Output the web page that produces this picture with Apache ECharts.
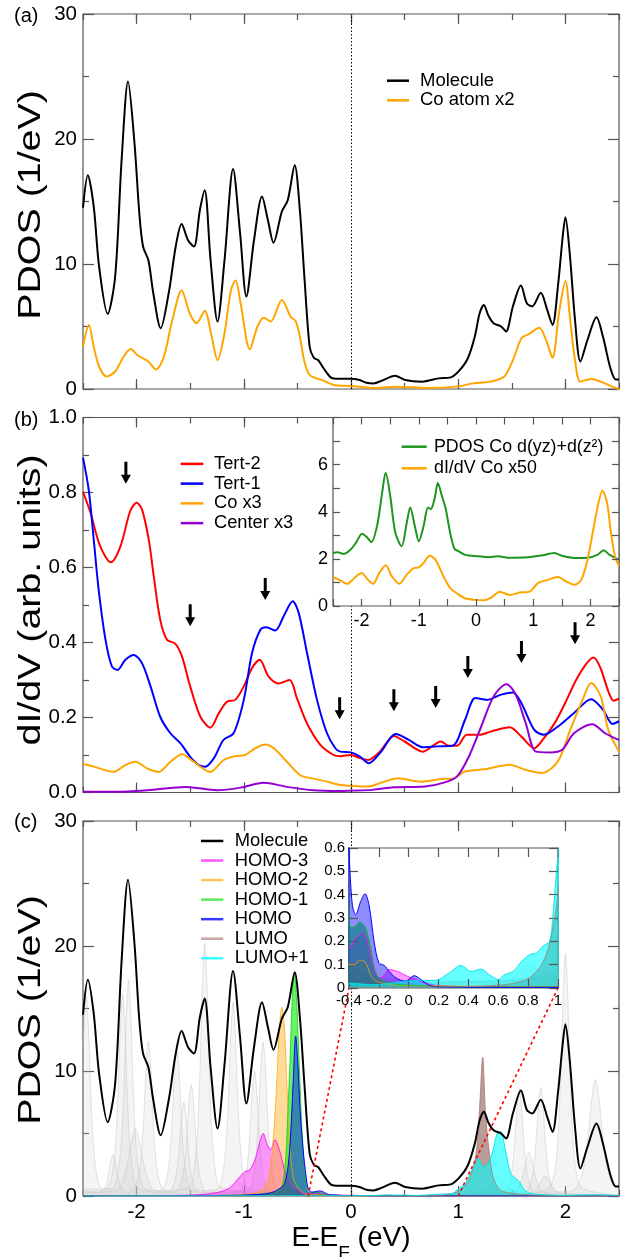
<!DOCTYPE html>
<html><head><meta charset="utf-8">
<script src="https://cdn.jsdelivr.net/npm/echarts@6/dist/echarts.min.js"></script>
<style>html,body{margin:0;padding:0;background:#fff}#c{width:635px;height:1257px}</style>
</head><body><div id="c"></div>
<script>
// ---------------- DATA ----------------
// panel (a)
const molA = [[-2.5,14.5],[-2.455,17.1],[-2.4,14.6],[-2.35,9.8],[-2.27,6.0],[-2.2,9.0],[-2.14,18.3],[-2.08,24.6],[-2.02,19.7],[-1.975,14.1],[-1.94,11.4],[-1.89,10.3],[-1.845,7.7],[-1.775,4.86],[-1.70,7.7],[-1.635,11.4],[-1.58,13.2],[-1.52,11.9],[-1.465,11.4],[-1.41,14.3],[-1.365,15.9],[-1.31,10.3],[-1.245,5.4],[-1.18,10.3],[-1.10,17.6],[-1.035,12.5],[-0.976,7.4],[-0.905,11.9],[-0.83,15.4],[-0.775,13.5],[-0.723,11.7],[-0.645,14.2],[-0.59,15.1],[-0.525,17.9],[-0.477,14.3],[-0.435,9.0],[-0.386,3.4],[-0.347,2.5],[-0.305,2.3],[-0.256,1.66],[-0.19,0.93],[-0.143,0.83],[0,0.83],[0.08,0.72],[0.145,0.5],[0.21,0.45],[0.29,0.67],[0.41,1.07],[0.505,0.72],[0.665,0.59],[0.815,0.85],[0.93,0.93],[1.01,1.47],[1.09,2.46],[1.155,4.2],[1.20,6.06],[1.24,6.73],[1.28,5.9],[1.33,5.26],[1.40,5.0],[1.446,4.6],[1.51,6.6],[1.585,8.28],[1.64,6.86],[1.69,6.6],[1.77,7.7],[1.83,6.33],[1.88,5.13],[1.93,8.2],[1.975,12.2],[2.0,13.75],[2.04,10.9],[2.09,5.5],[2.14,2.2],[2.205,3.9],[2.29,5.74],[2.35,4.2],[2.42,1.66],[2.47,0.77],[2.5,0.77]];
const coA = [[-2.5,3.4],[-2.445,5.13],[-2.40,3.4],[-2.35,1.8],[-2.28,1.0],[-2.20,1.4],[-2.12,2.6],[-2.056,3.2],[-1.99,2.7],[-1.89,2.2],[-1.82,1.57],[-1.75,2.46],[-1.667,5.5],[-1.58,7.9],[-1.505,6.06],[-1.44,5.26],[-1.365,6.27],[-1.30,4.2],[-1.245,2.3],[-1.18,4.46],[-1.12,7.9],[-1.077,8.68],[-1.03,6.86],[-0.944,3.18],[-0.872,5.0],[-0.814,5.7],[-0.75,5.4],[-0.645,7.13],[-0.564,5.8],[-0.515,5.4],[-0.477,4.2],[-0.435,2.2],[-0.386,1.12],[-0.32,0.85],[-0.256,0.67],[-0.16,0.32],[0,0.24],[0.23,0.08],[0.41,0.19],[0.72,0.08],[0.98,0.19],[1.14,0.45],[1.30,0.59],[1.43,1.0],[1.51,2.3],[1.59,4.06],[1.657,4.38],[1.756,4.9],[1.82,3.9],[1.88,2.5],[1.94,6.06],[2.0,8.65],[2.045,5.5],[2.09,2.3],[2.14,0.59],[2.24,0.8],[2.33,0.59],[2.435,0.19],[2.5,0.0]];

// panel (b)
const tert2 = [[-2.5,0.802],[-2.43,0.746],[-2.34,0.657],[-2.24,0.614],[-2.15,0.657],[-2.06,0.750],[-2.0,0.773],[-1.95,0.755],[-1.887,0.675],[-1.84,0.577],[-1.78,0.461],[-1.716,0.407],[-1.64,0.397],[-1.577,0.363],[-1.50,0.283],[-1.405,0.202],[-1.312,0.173],[-1.234,0.211],[-1.157,0.242],[-1.08,0.247],[-1.0,0.283],[-0.923,0.332],[-0.852,0.354],[-0.768,0.309],[-0.675,0.291],[-0.572,0.300],[-0.504,0.251],[-0.41,0.184],[-0.286,0.127],[-0.162,0.10],[-0.1,0.097],[0,0.10],[0.083,0.092],[0.16,0.087],[0.27,0.109],[0.40,0.151],[0.50,0.136],[0.67,0.109],[0.84,0.136],[0.91,0.125],[0.99,0.125],[1.08,0.154],[1.20,0.154],[1.31,0.163],[1.48,0.174],[1.59,0.149],[1.71,0.118],[1.80,0.145],[1.90,0.185],[2.0,0.24],[2.1,0.30],[2.2,0.345],[2.264,0.36],[2.33,0.33],[2.40,0.27],[2.45,0.245],[2.5,0.25]];
const tert1 = [[-2.5,0.893],[-2.447,0.808],[-2.40,0.675],[-2.354,0.541],[-2.29,0.407],[-2.23,0.336],[-2.177,0.327],[-2.105,0.354],[-2.027,0.367],[-1.95,0.345],[-1.87,0.283],[-1.78,0.202],[-1.685,0.158],[-1.59,0.131],[-1.50,0.095],[-1.42,0.073],[-1.36,0.069],[-1.28,0.091],[-1.19,0.140],[-1.095,0.158],[-1.0,0.247],[-0.923,0.372],[-0.845,0.434],[-0.79,0.441],[-0.706,0.432],[-0.628,0.470],[-0.544,0.510],[-0.488,0.479],[-0.41,0.372],[-0.317,0.247],[-0.224,0.158],[-0.146,0.118],[-0.1,0.109],[0,0.107],[0.083,0.096],[0.166,0.078],[0.27,0.105],[0.42,0.156],[0.536,0.141],[0.67,0.121],[0.80,0.123],[0.95,0.125],[1.064,0.194],[1.16,0.252],[1.27,0.247],[1.40,0.261],[1.51,0.267],[1.59,0.238],[1.71,0.167],[1.80,0.154],[1.93,0.176],[2.08,0.212],[2.24,0.249],[2.35,0.221],[2.44,0.183],[2.5,0.19]];
const coB = [[-2.5,0.0758],[-2.4,0.069],[-2.214,0.055],[-2.105,0.073],[-2.01,0.082],[-1.90,0.064],[-1.794,0.055],[-1.685,0.082],[-1.576,0.102],[-1.468,0.082],[-1.312,0.055],[-1.19,0.086],[-1.08,0.097],[-0.986,0.10],[-0.893,0.118],[-0.80,0.128],[-0.72,0.118],[-0.597,0.082],[-0.473,0.046],[-0.35,0.037],[-0.224,0.029],[-0.1,0.020],[0,0.018],[0.16,0.016],[0.27,0.025],[0.44,0.038],[0.65,0.029],[0.84,0.036],[0.95,0.037],[1.064,0.056],[1.25,0.062],[1.48,0.074],[1.63,0.060],[1.78,0.052],[1.93,0.083],[2.045,0.167],[2.16,0.247],[2.24,0.292],[2.33,0.256],[2.40,0.167],[2.5,0.109]];
const centerB = [[-2.5,0.002],[-2.21,0.002],[-1.9,0.006],[-1.536,0.015],[-1.25,0.006],[-1.03,0.013],[-0.815,0.026],[-0.597,0.015],[-0.35,0.006],[-0.1,0.004],[0,0.005],[0.2,0.007],[0.40,0.014],[0.69,0.016],[0.875,0.027],[0.99,0.043],[1.10,0.096],[1.215,0.176],[1.33,0.256],[1.45,0.289],[1.536,0.261],[1.63,0.185],[1.725,0.109],[1.857,0.107],[1.97,0.114],[2.08,0.158],[2.25,0.182],[2.37,0.158],[2.5,0.140]];
const arrowPts = [[-2.1,0.853],[-1.5,0.473],[-0.8,0.543],[-0.106,0.225],[0.40,0.246],[0.79,0.255],[1.09,0.335],[1.59,0.375],[2.09,0.425]];
// inset (b)
const pdosCoD = [[-2.5,2.25],[-2.42,2.28],[-2.31,2.21],[-2.19,2.40],[-2.10,2.68],[-1.99,3.07],[-1.90,2.90],[-1.83,2.71],[-1.73,3.40],[-1.64,4.82],[-1.58,5.65],[-1.50,4.68],[-1.41,3.11],[-1.30,2.54],[-1.21,3.54],[-1.15,4.18],[-1.07,3.40],[-1.0,2.75],[-0.916,3.40],[-0.84,4.18],[-0.79,4.11],[-0.725,4.54],[-0.667,5.22],[-0.597,4.68],[-0.528,4.11],[-0.452,3.11],[-0.377,2.43],[-0.307,2.33],[-0.19,2.17],[0.04,2.11],[0.215,2.07],[0.39,2.11],[0.56,2.05],[0.91,2.07],[1.14,2.14],[1.374,2.25],[1.49,2.14],[1.72,2.04],[1.95,2.05],[2.13,2.18],[2.23,2.37],[2.33,2.18],[2.46,2.01],[2.5,1.98]];
const didvCo50 = [[-2.5,1.23],[-2.39,1.11],[-2.25,0.94],[-2.13,1.18],[-2.0,1.40],[-1.90,1.14],[-1.80,0.94],[-1.69,1.40],[-1.58,1.73],[-1.47,1.26],[-1.34,0.94],[-1.21,1.33],[-1.09,1.61],[-1.0,1.64],[-0.916,1.83],[-0.81,2.13],[-0.71,1.97],[-0.57,1.26],[-0.45,0.76],[-0.336,0.54],[-0.19,0.33],[-0.017,0.26],[0.128,0.24],[0.27,0.37],[0.417,0.61],[0.59,0.47],[0.765,0.57],[0.94,0.61],[1.084,0.97],[1.258,1.11],[1.43,1.23],[1.577,1.04],[1.72,0.90],[1.84,1.11],[1.95,1.97],[2.04,3.11],[2.13,4.25],[2.21,4.89],[2.29,4.39],[2.36,3.11],[2.43,2.11],[2.5,1.7]];

// panel (c)
const molC = [[-2.5,14.5],[-2.455,17.3],[-2.4,14.6],[-2.35,9.8],[-2.27,5.9],[-2.2,9.0],[-2.14,18.8],[-2.08,25.3],[-2.02,20.2],[-1.975,14.1],[-1.94,11.4],[-1.89,10.3],[-1.845,7.7],[-1.775,4.86],[-1.70,7.7],[-1.635,11.4],[-1.58,13.2],[-1.52,11.9],[-1.465,11.4],[-1.41,14.3],[-1.365,15.8],[-1.31,10.3],[-1.245,5.4],[-1.18,10.5],[-1.10,18.0],[-1.035,12.7],[-0.976,7.4],[-0.905,11.9],[-0.83,15.5],[-0.775,13.5],[-0.723,11.7],[-0.645,14.2],[-0.59,15.1],[-0.525,17.9],[-0.477,14.3],[-0.435,9.0],[-0.386,3.4],[-0.347,2.5],[-0.305,2.3],[-0.256,1.66],[-0.19,0.93],[-0.143,0.83],[0,0.83],[0.08,0.72],[0.145,0.5],[0.21,0.45],[0.29,0.67],[0.41,1.07],[0.505,0.72],[0.665,0.59],[0.815,0.85],[0.93,0.93],[1.01,1.47],[1.09,2.46],[1.155,4.2],[1.20,6.06],[1.24,6.75],[1.28,5.9],[1.33,5.26],[1.40,5.0],[1.446,4.6],[1.51,6.6],[1.585,8.45],[1.64,6.9],[1.69,6.6],[1.77,7.7],[1.83,6.33],[1.88,5.13],[1.93,8.2],[1.975,12.2],[2.0,13.75],[2.04,10.9],[2.09,5.5],[2.14,2.2],[2.205,3.9],[2.29,5.8],[2.35,4.2],[2.42,1.66],[2.47,0.77],[2.5,0.77]];
const homo3 = [[-2.5,0.02],[-1.6,0.05],[-1.3,0.2],[-1.14,0.6],[-1.04,1.5],[-0.99,1.95],[-0.944,2.1],[-0.895,2.9],[-0.85,4.35],[-0.82,5.0],[-0.78,4.1],[-0.75,3.7],[-0.71,4.5],[-0.668,3.7],[-0.62,2.1],[-0.57,1.0],[-0.506,0.48],[-0.45,0.25],[-0.4,0.17],[-0.35,0.215],[-0.306,0.236],[-0.254,0.13],[-0.22,0.057],[-0.187,0.043],[-0.13,0.079],[-0.075,0.071],[-0.008,0.05],[0.048,0.036],[0.115,0.021],[0.2,0.01],[0.5,0.005],[1.0,0.005],[2.5,0.003]];
const homo2 = [[-2.5,0.02],[-1.2,0.05],[-0.91,0.2],[-0.814,0.6],[-0.765,1.5],[-0.733,3.7],[-0.70,7.9],[-0.67,13.0],[-0.645,15.1],[-0.62,13.3],[-0.593,7.9],[-0.57,3.9],[-0.54,1.5],[-0.49,0.6],[-0.44,0.25],[-0.4,0.1],[-0.36,0.1],[-0.33,0.12],[-0.29,0.11],[-0.25,0.05],[-0.2,0.025],[0,0.01],[2.5,0.003]];
const homo1 = [[-2.5,0.02],[-1.2,0.05],[-0.91,0.1],[-0.8,0.2],[-0.716,0.27],[-0.652,0.6],[-0.626,1.5],[-0.603,3.9],[-0.587,7.1],[-0.57,10.6],[-0.548,15.9],[-0.528,17.9],[-0.506,15.4],[-0.483,10.6],[-0.457,5.3],[-0.43,1.8],[-0.415,0.7],[-0.4,0.27],[-0.37,0.26],[-0.328,0.283],[-0.288,0.257],[-0.254,0.17],[-0.232,0.093],[-0.2,0.043],[-0.13,0.021],[0,0.012],[0.3,0.006],[2.5,0.003]];
const homo = [[-2.5,0.02],[-1.5,0.03],[-1.0,0.06],[-0.976,0.08],[-0.81,0.16],[-0.716,0.35],[-0.65,0.7],[-0.62,1.0],[-0.587,2.35],[-0.564,4.75],[-0.54,9.0],[-0.516,12.8],[-0.496,10.6],[-0.473,6.6],[-0.44,3.1],[-0.41,1.0],[-0.4,0.6],[-0.378,0.357],[-0.355,0.314],[-0.322,0.371],[-0.293,0.404],[-0.266,0.357],[-0.232,0.2],[-0.2,0.107],[-0.165,0.097],[-0.13,0.071],[-0.086,0.043],[-0.02,0.029],[0.037,0.053],[0.082,0.036],[0.138,0.011],[0.205,0.004],[0.5,0.003],[2.5,0.002]];
const lumo = [[-2.5,0.002],[0,0.004],[0.4,0.006],[0.6,0.012],[0.7,0.02],[0.8,0.04],[0.88,0.09],[0.93,0.16],[0.97,0.27],[1.0,0.4],[1.034,0.6],[1.08,1.0],[1.115,1.6],[1.164,3.2],[1.196,6.5],[1.229,11.1],[1.255,6.6],[1.287,3.7],[1.326,1.5],[1.39,0.48],[1.52,0.2],[1.7,0.08],[2.0,0.03],[2.5,0.01]];
const lumo1 = [[-2.5,0.002],[-1.0,0.005],[-0.6,0.012],[-0.4,0.021],[-0.24,0.014],[-0.02,0.029],[0.07,0.033],[0.18,0.033],[0.27,0.064],[0.35,0.097],[0.418,0.071],[0.485,0.081],[0.54,0.057],[0.6,0.036],[0.64,0.057],[0.70,0.071],[0.755,0.114],[0.81,0.143],[0.855,0.15],[0.9,0.18],[0.944,0.2],[0.966,0.31],[0.99,0.5],[1.02,0.7],[1.067,1.0],[1.13,2.1],[1.19,3.0],[1.229,2.35],[1.278,2.6],[1.326,3.7],[1.36,4.9],[1.397,5.15],[1.44,3.7],[1.49,1.8],[1.537,1.4],[1.57,1.15],[1.618,0.48],[1.68,0.2],[1.81,0.1],[2.0,0.05],[2.27,0.1],[2.5,0.03]];
// other orbitals (light gray)
const gray1 = [[-2.5,12.0],[-2.49,13.6],[-2.47,16.0],[-2.45,13.6],[-2.43,8.8],[-2.405,4.3],[-2.37,1.6],[-2.32,0.56],[-2.225,0.6],[-2.175,1.73],[-2.14,4.67],[-2.115,9.5],[-2.095,14.7],[-2.075,17.3],[-2.055,14.7],[-2.035,9.5],[-2.01,4.67],[-1.975,1.73],[-1.925,0.6],[-1.775,0.42],[-1.725,1.2],[-1.69,3.24],[-1.665,6.6],[-1.645,10.2],[-1.625,12.0],[-1.605,10.2],[-1.585,6.6],[-1.56,3.24],[-1.525,1.2],[-1.475,0.42],[-1.25,0.54],[-1.2,1.55],[-1.165,4.2],[-1.14,8.5],[-1.12,13.2],[-1.1,15.5],[-1.08,13.2],[-1.06,8.5],[-1.035,4.2],[-1.0,1.55],[-0.95,0.54],[-0.6,0.15],[0,0.03],[0.5,0.03],[1.0,0.05],[1.2,0.15],[1.42,0.3],[1.47,0.86],[1.505,2.3],[1.53,4.7],[1.55,7.3],[1.57,8.6],[1.59,7.3],[1.61,4.7],[1.635,2.3],[1.67,0.86],[1.72,0.3],[1.85,0.68],[1.9,1.94],[1.935,5.2],[1.96,10.7],[1.98,16.5],[2.0,19.4],[2.02,16.5],[2.04,10.7],[2.065,5.2],[2.1,1.94],[2.15,0.68],[2.35,0.2],[2.5,0.1]];
const gray2 = [[-2.5,0.4],[-2.37,0.3],[-2.32,0.4],[-2.285,0.9],[-2.26,1.8],[-2.24,2.8],[-2.22,3.3],[-2.2,2.8],[-2.18,1.8],[-2.155,0.9],[-2.12,0.4],[-2.07,0.3],[-2.04,0.43],[-1.99,1.24],[-1.955,3.35],[-1.93,6.8],[-1.91,10.5],[-1.89,12.4],[-1.87,10.5],[-1.85,6.8],[-1.825,3.35],[-1.79,1.24],[-1.74,0.43],[-1.64,0.31],[-1.59,0.89],[-1.555,2.4],[-1.53,4.9],[-1.51,7.6],[-1.49,8.9],[-1.47,7.6],[-1.45,4.9],[-1.425,2.4],[-1.39,0.89],[-1.34,0.31],[-0.97,0.43],[-0.92,1.23],[-0.885,3.3],[-0.86,6.8],[-0.84,10.5],[-0.82,12.3],[-0.8,10.5],[-0.78,6.8],[-0.755,3.3],[-0.72,1.23],[-0.67,0.43],[-0.4,0.1],[0,0.02],[0.4,0.03],[0.6,0.02],[0.7,0.04],[0.8,0.1],[0.86,0.08],[0.92,0.06],[1.0,0.08],[1.1,0.2],[1.2,0.3],[1.27,0.6],[1.33,1.2],[1.375,1.5],[1.42,1.2],[1.48,0.6],[1.55,0.35],[1.62,0.3],[1.67,0.87],[1.705,2.35],[1.73,4.8],[1.75,7.4],[1.77,8.7],[1.79,7.4],[1.81,4.8],[1.835,2.35],[1.87,0.87],[1.92,0.35],[2.04,0.33],[2.12,0.93],[2.176,2.5],[2.216,5.1],[2.248,7.9],[2.28,9.3],[2.312,7.9],[2.344,5.1],[2.384,2.5],[2.44,0.93],[2.5,0.4]];
const gray3 = [[-2.5,0.6],[-2.35,0.5],[-2.28,0.57],[-2.23,1.6],[-2.195,4.4],[-2.17,8.9],[-2.15,13.8],[-2.13,16.2],[-2.11,13.8],[-2.09,8.9],[-2.065,4.4],[-2.03,1.6],[-1.98,0.57],[-1.71,0.26],[-1.66,0.75],[-1.625,2.0],[-1.6,4.1],[-1.58,6.4],[-1.56,7.5],[-1.54,6.4],[-1.52,4.1],[-1.495,2.0],[-1.46,0.75],[-1.41,0.26],[-1.05,0.35],[-1.0,1.0],[-0.965,2.7],[-0.94,5.5],[-0.92,8.5],[-0.9,10.0],[-0.88,8.5],[-0.86,5.5],[-0.835,2.7],[-0.8,1.0],[-0.75,0.35],[-0.4,0.05],[0,0.02],[1.3,0.1],[1.52,0.3],[1.58,1.0],[1.62,2.3],[1.66,3.5],[1.7,2.3],[1.74,1.0],[1.8,0.3],[2.0,0.15],[2.5,0.08]];
const gray4 = [[-2.5,0.3],[-2.2,0.4],[-2.13,1.2],[-2.08,2.8],[-2.045,4.4],[-2.01,5.4],[-1.975,4.4],[-1.94,2.8],[-1.89,1.2],[-1.82,0.4],[-1.515,0.7],[-1.465,2.0],[-1.43,5.45],[-1.405,11.1],[-1.385,17.2],[-1.365,20.2],[-1.345,17.2],[-1.325,11.1],[-1.3,5.45],[-1.265,2.0],[-1.215,0.7],[-0.6,0.1],[0,0.02],[1.5,0.1],[1.7,0.3],[1.76,1.0],[1.81,1.6],[1.86,1.0],[1.92,0.3],[2.5,0.05]];

// tick values
const mainXMajor = [-2, -1, 0, 1, 2];

// ---------------- OPTION ----------------
const FONT = 'Liberation Sans, Arial, Helvetica, sans-serif';
const FRAME = '#555';
const grids = [
  {left:83, top:14, width:536, height:375},
  {left:83, top:417.5, width:536, height:375},
  {left:333, top:417.5, width:286, height:188.5, z:10, backgroundColor:'#fff'},
  {left:83, top:821, width:536, height:375},
  {left:349, top:848, width:209, height:140, z:10, backgroundColor:'#fff'}
].map(g => Object.assign({show:true, borderColor:FRAME, borderWidth:1.2, containLabel:false, outerBoundsMode:'none', backgroundColor:'rgba(0,0,0,0)', z:0}, g));

const xAxes = [], yAxes = [];
function tick(len, extra){ return Object.assign({show:true, inside:true, length:len, lineStyle:{color:FRAME, width:1.2}}, extra||{}); }
function lbl(fmt, size, margin){ return {show:true, formatter:fmt, fontSize:size, color:'#000', fontFamily:FONT, margin:margin}; }
function addX(gi, o){
  const base = {gridIndex:gi, type:'value', min:o.min, max:o.max, interval:o.interval, axisLine:{show:false, onZero:false}, splitLine:{show:false}, z:o.z||0};
  const idx = xAxes.length;
  xAxes.push(Object.assign({}, base, {position:'bottom', axisTick:tick(o.len), axisLabel: o.fmt ? lbl(o.fmt,o.size,o.margin) : {show:false}}, o.nameOpt||{}));
  xAxes.push(Object.assign({}, base, {position:'top', axisTick:tick(o.len), axisLabel:{show:false}}));
  if (o.majors){
    xAxes.push(Object.assign({}, base, {position:'bottom', axisTick:tick(o.majorLen,{customValues:o.majors}), axisLabel:{show:false}}));
    xAxes.push(Object.assign({}, base, {position:'top', axisTick:tick(o.majorLen,{customValues:o.majors}), axisLabel:{show:false}}));
  }
  return idx;
}
function addY(gi, o){
  const base = {gridIndex:gi, type:'value', min:o.min, max:o.max, interval:o.interval, axisLine:{show:false, onZero:false}, splitLine:{show:false}, minorSplitLine:{show:false}, z:o.z||0,
    minorTick: o.minor ? {show:true, splitNumber:o.minor, length:o.minorLen, lineStyle:{color:FRAME, width:1.2}} : {show:false}};
  const idx = yAxes.length;
  yAxes.push(Object.assign({}, base, {position:'left', axisTick:tick(o.len), axisLabel: lbl(o.fmt,o.size,o.margin)}));
  yAxes.push(Object.assign({}, base, {position:'right', axisTick:tick(o.len), axisLabel:{show:false}}));
  return idx;
}
const intFmt = v => Math.abs(v - Math.round(v)) < 1e-9 ? String(Math.round(v)) : '';
const dec1 = v => { const r = Math.round(v*10)/10; return (r === 0 || r === 1) ? String(r) : r.toFixed(1); };

const aX = addX(0, {min:-2.5, max:2.5, interval:0.5, len:6, majors:mainXMajor, majorLen:10});
const aY = addY(0, {min:0, max:30, interval:10, len:11, minor:2, minorLen:6, fmt:v=>String(v), size:20.5, margin:6});
const bX = addX(1, {min:-2.5, max:2.5, interval:0.5, len:6, majors:mainXMajor, majorLen:10});
const bY = addY(1, {min:0, max:1, interval:0.2, len:10, minor:2, minorLen:6, fmt:v=>v.toFixed(1), size:20.5, margin:6});
const biX = addX(2, {min:-2.5, max:2.5, interval:0.5, len:7, fmt:intFmt, size:18, margin:6, z:12});
const biY = addY(2, {min:0, max:8, interval:1, len:7, fmt:v=>(v%2===0 && v<8)?String(v):'', size:18, margin:5, z:12});
const cX = addX(3, {min:-2.5, max:2.5, interval:0.5, len:6, majors:mainXMajor, majorLen:10, fmt:intFmt, size:20.5, margin:6,
  nameOpt:{name:'{n|E-E}{s|F}{n| (eV)}', nameLocation:'middle', nameGap:26,
    nameTextStyle:{color:'#000', fontFamily:FONT, rich:{n:{fontSize:28, lineHeight:28, verticalAlign:'top', fontFamily:FONT, color:'#000'}, s:{fontSize:19, lineHeight:19, padding:[20,0,0,0], verticalAlign:'top', fontFamily:FONT, color:'#000'}}}}});
const cY = addY(3, {min:0, max:30, interval:10, len:11, minor:2, minorLen:6, fmt:v=>String(v), size:20.5, margin:6});
const ciX = addX(4, {min:-0.4, max:1.0, interval:0.2, len:9, fmt:dec1, size:15, margin:5, z:12});
const ciY = addY(4, {min:0, max:0.6, interval:0.1, len:9, fmt:dec1, size:15, margin:4, z:12});

const dotted = {silent:true, symbol:['none','none'], label:{show:false}, animation:false,
  lineStyle:{type:[1.5,2], color:'#000', width:1, opacity:1}, emphasis:{disabled:true}, data:[{xAxis:0}]};
function line(name, data, xi, yi, color, width, z, extra){
  return Object.assign({type:'line', name, data, xAxisIndex:xi, yAxisIndex:yi, showSymbol:false, symbol:'none', smooth:0.3,
    lineStyle:{color, width}, itemStyle:{color}, z, silent:true, animation:false, emphasis:{disabled:true}}, extra||{});
}
function area(name, data, xi, yi, lc, fill, z){ return line(name, data, xi, yi, lc, 1, z, {areaStyle:{color:fill, opacity:1}}); }

const GL = 'rgba(195,195,195,0.45)', GF = 'rgba(205,205,205,0.22)';
const orbitalSeries = (xi, yi, z) => [
  area('gray1', gray1, xi, yi, GL, GF, z), area('gray2', gray2, xi, yi, GL, GF, z),
  area('gray3', gray3, xi, yi, GL, GF, z), area('gray4', gray4, xi, yi, GL, GF, z),
  area('HOMO-3', homo3, xi, yi, 'rgba(255,0,255,0.85)', 'rgba(255,0,255,0.38)', z+1),
  area('HOMO-2', homo2, xi, yi, 'rgba(255,165,0,0.75)', 'rgba(255,165,0,0.4)', z+1),
  area('HOMO-1', homo1, xi, yi, 'rgba(0,200,0,0.7)', 'rgba(0,235,0,0.6)', z+1),
  area('HOMO', homo, xi, yi, '#0000ff', 'rgba(0,0,255,0.45)', z+1),
  area('LUMO', lumo, xi, yi, 'rgba(170,120,115,0.8)', 'rgba(130,75,65,0.55)', z+1),
  area('LUMO+1', lumo1, xi, yi, 'rgba(0,225,225,0.9)', 'rgba(0,255,255,0.6)', z+1)
];

const series = [
  line('Molecule', molA, aX, aY, '#000', 2, 3, {markLine:dotted}),
  line('Co atom x2', coA, aX, aY, '#ffa500', 2, 3),
  line('Tert-2', tert2, bX, bY, '#ff0000', 2, 3, {markLine:dotted}),
  line('Tert-1', tert1, bX, bY, '#0000ff', 2, 3),
  line('Co x3', coB, bX, bY, '#ffa500', 2, 3),
  line('Center x3', centerB, bX, bY, '#9400d3', 2, 3),
  {type:'scatter', name:'arrows', data:arrowPts, xAxisIndex:bX, yAxisIndex:bY, symbol:'path://M3.5,0 L6.5,0 L6.5,13 L10,13 L5,22 L0,13 L3.5,13 Z',
    symbolSize:[10,22], itemStyle:{color:'#000', opacity:1}, z:5, silent:true, animation:false, emphasis:{disabled:true}},
  line('PDOS Co d(yz)+d(z²)', pdosCoD, biX, biY, '#1e961e', 2, 11),
  line('dI/dV Co x50', didvCo50, biX, biY, '#ffa500', 2, 11),
  ...orbitalSeries(cX, cY, 2),
  line('Molecule', molC, cX, cY, '#000', 2, 4, {markLine:dotted}),
  ...orbitalSeries(ciX, ciY, 11).map((s,i)=> i===0 ? Object.assign(s, {markLine:Object.assign({}, dotted)}) : s)
];

function legend(items, left, top, pitch, size, iconW, pad, z){
  return {show:true, orient:'vertical', left, top, itemGap:0, itemWidth:iconW, itemHeight:2.5, icon:'rect', selectedMode:false, z:z,
    padding:0, itemStyle:{borderWidth:0}, lineStyle:{width:0},
    textStyle:{fontSize:size, lineHeight:pitch, color:'#000', fontFamily:FONT, padding:[0,0,0,pad]},
    data: items.map(([n,c]) => ({name:n, icon:'rect', itemStyle:{color:c, borderWidth:0}}))};
}
const legends = [
  legend([['Molecule','#000'],['Co atom x2','#ffa500']], 387, 70.9, 19.6, 18.5, 22, 6, 6),
  legend([['Tert-2','#ff0000'],['Tert-1','#0000ff'],['Co x3','#ffa500'],['Center x3','#9400d3']], 180.7, 454, 19.75, 18.3, 22.6, 5.7, 6),
  legend([['PDOS Co d(yz)+d(z²)','#1e961e'],['dI/dV Co x50','#ffa500']], 401.7, 435.9, 21.6, 17.8, 25, 2.3, 13),
  legend([['Molecule','#000'],['HOMO-3','#ff55ff'],['HOMO-2','#ffc458'],['HOMO-1','#5ee85e'],['HOMO','#3a3aff'],['LUMO','#c8a8a4'],['LUMO+1','#40ffff']], 201, 831.2, 19.55, 18.4, 22.3, 6.4, 6)
];

const chart = echarts.init(document.getElementById('c'), null, {renderer:'canvas', width:635, height:1257});
chart.setOption({animation:false, backgroundColor:'#fff', grid:grids, xAxis:xAxes, yAxis:yAxes, legend:legends, series:series});

const p1 = chart.convertToPixel({xAxisIndex:cX, yAxisIndex:cY}, [-0.4, 0]);
const p2 = chart.convertToPixel({xAxisIndex:ciX, yAxisIndex:ciY}, [-0.4, 0]);
const p3 = chart.convertToPixel({xAxisIndex:cX, yAxisIndex:cY}, [1.0, 0]);
const p4 = chart.convertToPixel({xAxisIndex:ciX, yAxisIndex:ciY}, [1.0, 0]);
const lab = (id, t, y) => ({id, type:'text', x:14, y, z:1, style:{text:t, fontSize:20, fontFamily:FONT, fill:'#000'}});
const yTitle = (id, t, cy) => ({id, type:'text', x:31, y:cy, rotation:Math.PI/2, scaleX:1.27, z:1,
  style:{text:t, fontSize:31, fontFamily:FONT, fill:'#000', align:'center', verticalAlign:'middle'}});
const redLine = (id, a, b) => ({id, type:'line', z:9, silent:true, shape:{x1:a[0], y1:a[1], x2:b[0], y2:b[1]}, style:{stroke:'#ff0000', lineWidth:1.6, lineDash:[3,3]}});
chart.setOption({graphic:[lab('ta','(a)',6), lab('tb','(b)',410), lab('tc','(c)',812),
  yTitle('ya','PDOS (1/eV)',205), yTitle('yb','dI/dV (arb. units)',600), yTitle('yc','PDOS (1/eV)',1010),
  redLine('r1',p1,p2), redLine('r2',p3,p4)]});
</script></body></html>
